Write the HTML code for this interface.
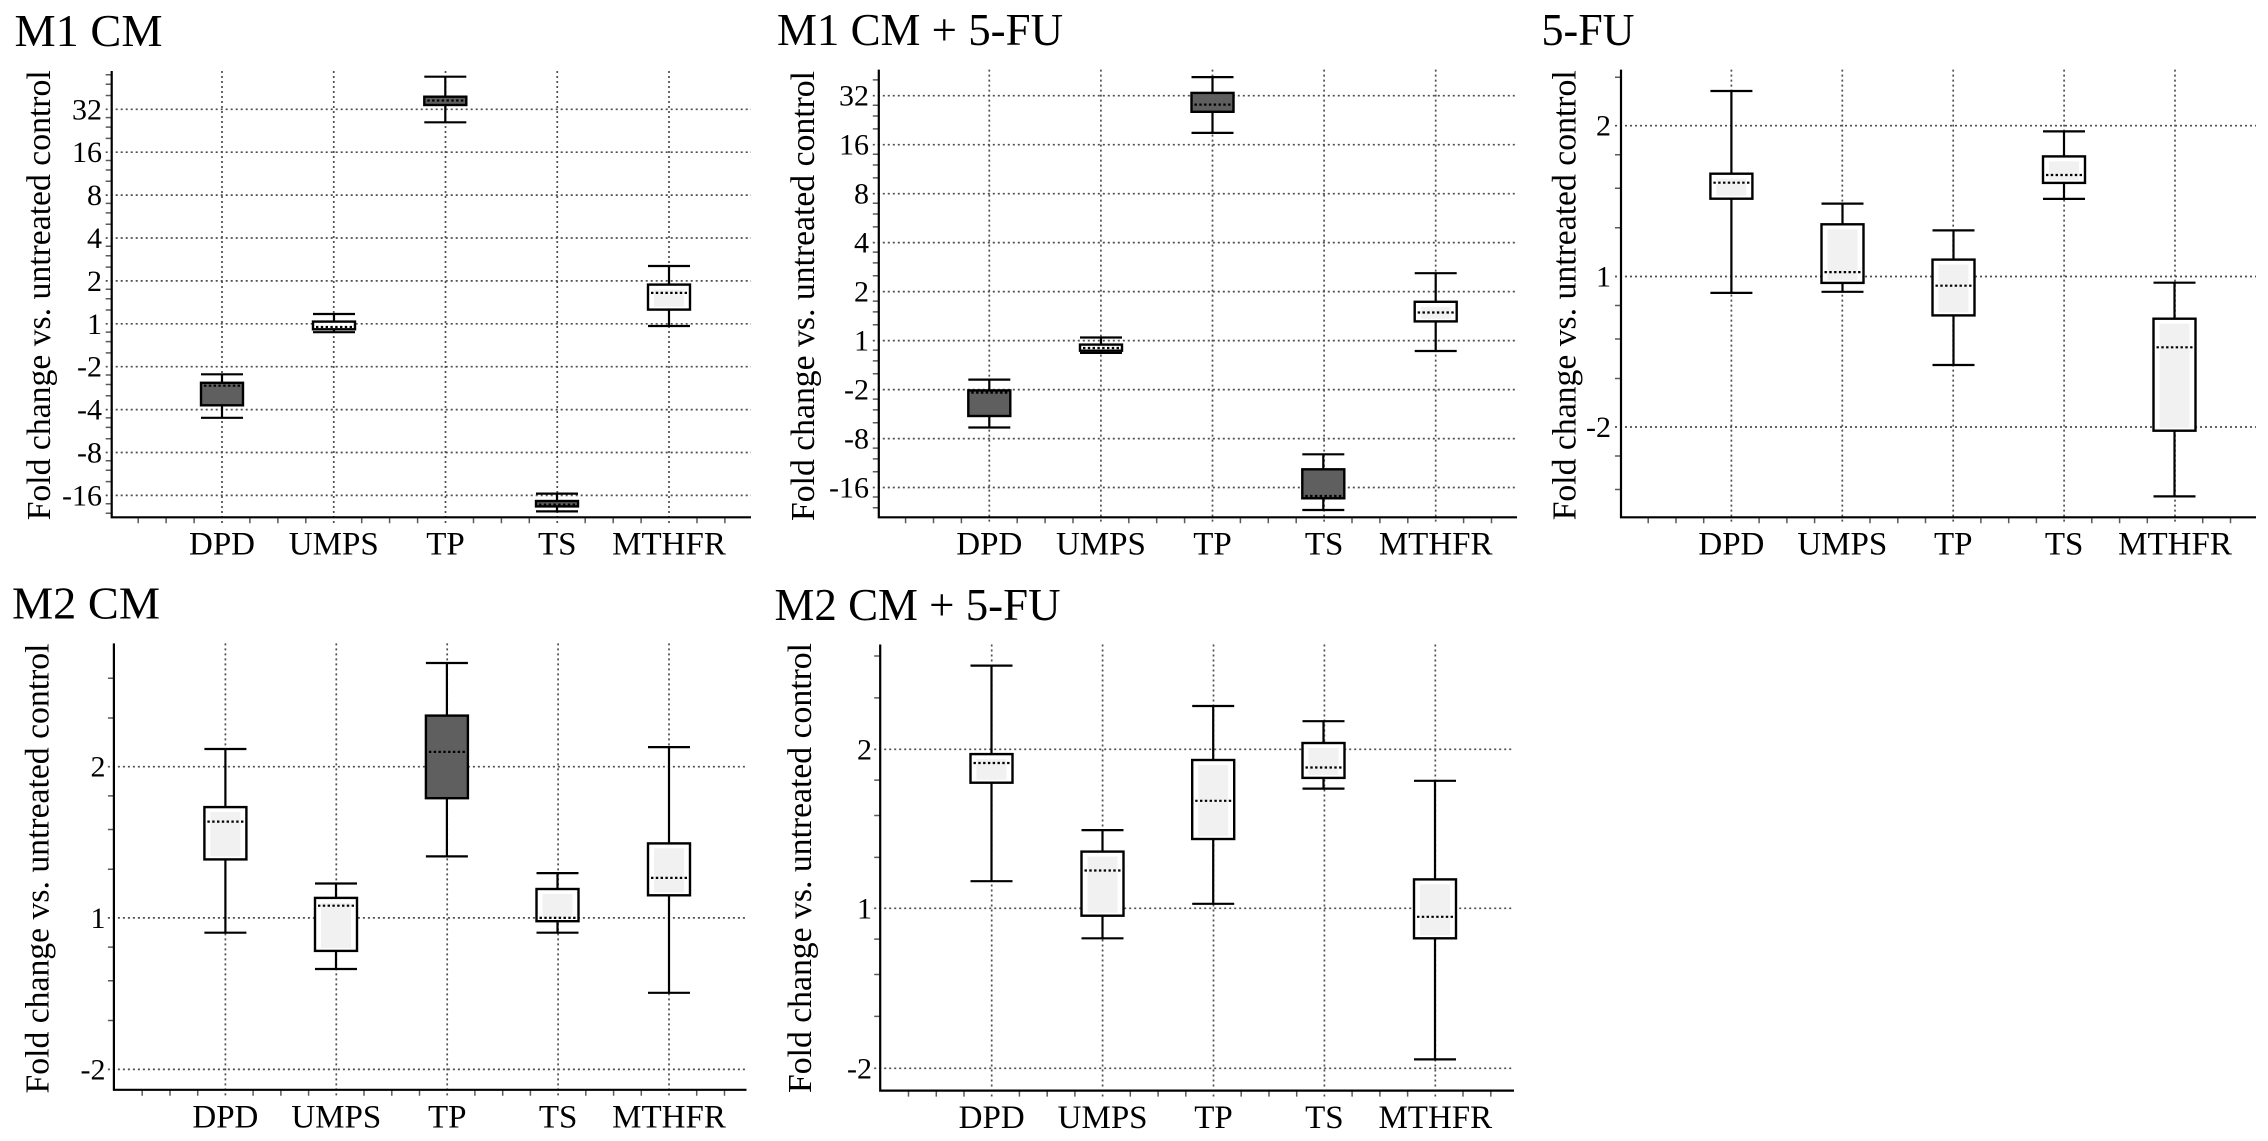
<!DOCTYPE html>
<html>
<head>
<meta charset="utf-8">
<style>
html,body{margin:0;padding:0;background:#fff;}
svg{display:block;}
text{font-family:"Liberation Serif","Times New Roman",serif;fill:#000;}
.ttl{font-size:46px;}
.yt{font-size:30px;text-anchor:end;}
.xt{font-size:33px;text-anchor:middle;}
.yl{font-size:33.5px;text-anchor:middle;}
.ax{stroke:#000;stroke-width:2.2;fill:none;}
.gd{stroke:#4e4e4e;stroke-width:1.7;stroke-dasharray:2 3;fill:none;}
.mt{stroke:#5a5a5a;stroke-width:1.5;fill:none;}
.wh{stroke:#000;stroke-width:2.2;fill:none;}
.bd{fill:#5f5f5f;stroke:#000;stroke-width:2.4;}
.bw{fill:#fff;stroke:#000;stroke-width:2.4;}
.in{fill:#f1f1f1;}
.md{stroke:#000;stroke-width:2.2;stroke-dasharray:2.4 2.4;fill:none;}
</style>
</head>
<body>
<svg width="2268" height="1141" viewBox="0 0 2268 1141" xmlns="http://www.w3.org/2000/svg">

<!-- ================= PANEL 1: M1 CM ================= -->
<text class="ttl" x="14.5" y="46" textLength="148" lengthAdjust="spacingAndGlyphs">M1 CM</text>
<text class="yl" transform="translate(50,295.3) rotate(-90)" textLength="450" lengthAdjust="spacingAndGlyphs">Fold change vs. untreated control</text>
<path class="gd" d="M105.7 109.3H751M105.7 152.2H751M105.7 195.1H751M105.7 238H751M105.7 280.9H751M105.7 323.8H751M105.7 366.7H751M105.7 409.6H751M105.7 452.5H751M105.7 495.4H751"/>
<path class="gd" d="M222 71V523.3M333.75 71V523.3M445.5 71V523.3M557.25 71V523.3M669 71V523.3"/>
<path class="mt" d="M105.7 74.7h6M105.7 84.2h6M105.7 95.5h6M105.7 117.6h6M105.7 127.1h6M105.7 138.4h6M105.7 160.5h6M105.7 170h6M105.7 181.3h6M105.7 203.4h6M105.7 212.9h6M105.7 224.2h6M105.7 246.3h6M105.7 255.8h6M105.7 267.1h6M105.7 289.2h6M105.7 298.7h6M105.7 310h6M105.7 332.1h6M105.7 341.6h6M105.7 352.9h6M105.7 375h6M105.7 384.5h6M105.7 395.8h6M105.7 417.9h6M105.7 427.4h6M105.7 438.7h6M105.7 460.8h6M105.7 470.3h6M105.7 481.6h6M105.7 503.7h6M105.7 513.2h6"/>
<path class="mt" d="M138.2 517.3v6M166.1 517.3v6M194.1 517.3v6M249.9 517.3v6M277.9 517.3v6M305.8 517.3v6M361.7 517.3v6M389.6 517.3v6M417.6 517.3v6M473.5 517.3v6M501.4 517.3v6M529.3 517.3v6M585.2 517.3v6M613.2 517.3v6M641.1 517.3v6M697 517.3v6M724.9 517.3v6"/>
<path class="ax" d="M111.7 71V517.3H751"/>
<text class="yt" x="102" y="119.3">32</text>
<text class="yt" x="102" y="162.2">16</text>
<text class="yt" x="102" y="205.1">8</text>
<text class="yt" x="102" y="248">4</text>
<text class="yt" x="102" y="290.9">2</text>
<text class="yt" x="102" y="333.8">1</text>
<text class="yt" x="102" y="376.7">-2</text>
<text class="yt" x="102" y="419.6">-4</text>
<text class="yt" x="102" y="462.5">-8</text>
<text class="yt" x="102" y="505.4">-16</text>
<text class="xt" x="222" y="554.5">DPD</text>
<text class="xt" x="333.75" y="554.5">UMPS</text>
<text class="xt" x="445.5" y="554.5">TP</text>
<text class="xt" x="557.25" y="554.5">TS</text>
<text class="xt" x="669" y="554.5">MTHFR</text>
<!-- boxes -->
<path class="wh" d="M222 374.3V382.8M222 405.3V417.8M201 374.3H243M201 417.8H243"/>
<rect class="bd" x="201" y="382.8" width="42" height="22.5"/>
<path class="md" d="M204 385.7H240"/>
<path class="wh" d="M334 314V321.6M334 329.3V332.2M313 314H355M313 332.2H355"/>
<rect class="bw" x="313" y="321.6" width="42" height="7.7"/>
<path class="md" d="M316 327H352"/>
<path class="wh" d="M445.3 76.7V96.7M445.3 105V122.3M424.3 76.7H466.3M424.3 122.3H466.3"/>
<rect class="bd" x="424.3" y="96.7" width="42" height="8.3"/>
<path class="md" d="M427.3 100.5H463.3"/>
<path class="wh" d="M557 493.6V501M557 506.4V511.4M536 493.6H578M536 511.4H578"/>
<rect class="bd" x="536" y="501" width="42" height="5.4"/>
<path class="md" d="M539 504.6H575"/>
<path class="wh" d="M669 266V284.6M669 309.6V326M648 266H690M648 326H690"/>
<rect class="bw" x="648" y="284.6" width="42" height="25"/>
<rect class="in" x="654" y="289.6" width="30" height="17"/>
<path class="md" d="M651 292.9H687"/>

<!-- ================= PANEL 2: M1 CM + 5-FU ================= -->
<text class="ttl" x="777" y="45" textLength="286" lengthAdjust="spacingAndGlyphs">M1 CM + 5-FU</text>
<text class="yl" transform="translate(814,296) rotate(-90)" textLength="450" lengthAdjust="spacingAndGlyphs">Fold change vs. untreated control</text>
<path class="gd" d="M872.8 95.7H1517M872.8 144.7H1517M872.8 193.7H1517M872.8 242.6H1517M872.8 291.6H1517M872.8 340.6H1517M872.8 389.6H1517M872.8 438.6H1517M872.8 487.5H1517"/>
<path class="gd" d="M989.3 69.6V523.3M1100.9 69.6V523.3M1212.5 69.6V523.3M1324.1 69.6V523.3M1435.7 69.6V523.3"/>
<path class="mt" d="M872.8 79.9h6M872.8 105.2h6M872.8 116h6M872.8 128.9h6M872.8 154.2h6M872.8 165h6M872.8 177.9h6M872.8 203.2h6M872.8 214h6M872.8 226.9h6M872.8 252.1h6M872.8 262.9h6M872.8 275.8h6M872.8 301.1h6M872.8 311.9h6M872.8 324.8h6M872.8 350.1h6M872.8 360.9h6M872.8 373.8h6M872.8 399.1h6M872.8 409.9h6M872.8 422.8h6M872.8 448.1h6M872.8 458.9h6M872.8 471.8h6M872.8 497h6M872.8 507.8h6"/>
<path class="mt" d="M905.6 517.3v6M933.5 517.3v6M961.4 517.3v6M1017.2 517.3v6M1045.1 517.3v6M1073 517.3v6M1128.8 517.3v6M1156.7 517.3v6M1184.6 517.3v6M1240.4 517.3v6M1268.3 517.3v6M1296.2 517.3v6M1352 517.3v6M1379.9 517.3v6M1407.8 517.3v6M1463.6 517.3v6M1491.5 517.3v6"/>
<path class="ax" d="M878.8 69.6V517.3H1517"/>
<text class="yt" x="869" y="105.7">32</text>
<text class="yt" x="869" y="154.7">16</text>
<text class="yt" x="869" y="203.7">8</text>
<text class="yt" x="869" y="252.6">4</text>
<text class="yt" x="869" y="301.6">2</text>
<text class="yt" x="869" y="350.6">1</text>
<text class="yt" x="869" y="399.6">-2</text>
<text class="yt" x="869" y="448.6">-8</text>
<text class="yt" x="869" y="497.5">-16</text>
<text class="xt" x="989.3" y="554.5">DPD</text>
<text class="xt" x="1100.9" y="554.5">UMPS</text>
<text class="xt" x="1212.5" y="554.5">TP</text>
<text class="xt" x="1324.1" y="554.5">TS</text>
<text class="xt" x="1435.7" y="554.5">MTHFR</text>
<!-- boxes -->
<path class="wh" d="M989.3 379.6V390.4M989.3 416V427.5M968.3 379.6H1010.3M968.3 427.5H1010.3"/>
<rect class="bd" x="968.3" y="390.4" width="42" height="25.6"/>
<path class="md" d="M971.3 392.6H1007.3"/>
<path class="wh" d="M1101 337.5V344.6M1101 350.7V352.9M1080 337.5H1122M1080 352.9H1122"/>
<rect class="bw" x="1080" y="344.6" width="42" height="6.1"/>
<path class="md" d="M1083 348H1119"/>
<path class="wh" d="M1212.5 77.1V92.9M1212.5 111.8V132.9M1191.5 77.1H1233.5M1191.5 132.9H1233.5"/>
<rect class="bd" x="1191.5" y="92.9" width="42" height="18.9"/>
<path class="md" d="M1194.5 104.6H1230.5"/>
<path class="wh" d="M1323.3 454.3V469.3M1323.3 498.3V510M1302.3 454.3H1344.3M1302.3 510H1344.3"/>
<rect class="bd" x="1302.3" y="469.3" width="42" height="29"/>
<path class="md" d="M1305.3 496H1341.3"/>
<path class="wh" d="M1435.7 273.2V301.8M1435.7 321.4V351M1414.7 273.2H1456.7M1414.7 351H1456.7"/>
<rect class="bw" x="1414.7" y="301.8" width="42" height="19.6"/>
<rect class="in" x="1420.7" y="306.8" width="30" height="12"/>
<path class="md" d="M1417.7 312.5H1453.7"/>

<!-- ================= PANEL 3: 5-FU ================= -->
<text class="ttl" x="1541.5" y="45" textLength="93" lengthAdjust="spacingAndGlyphs">5-FU</text>
<text class="yl" transform="translate(1575.5,295.3) rotate(-90)" textLength="450" lengthAdjust="spacingAndGlyphs">Fold change vs. untreated control</text>
<path class="gd" d="M1615 125.7H2256M1615 276.5H2256M1615 427H2256"/>
<path class="gd" d="M1731.4 69.6V523.3M1842.3 69.6V523.3M1953.2 69.6V523.3M2064.1 69.6V523.3M2175 69.6V523.3"/>
<path class="mt" d="M1615 77.2h6M1615 154.7h6M1615 188.2h6M1615 227.7h6M1615 305.5h6M1615 339h6M1615 378.5h6M1615 456h6M1615 489.5h6"/>
<path class="mt" d="M1648.2 517.3v6M1676 517.3v6M1703.7 517.3v6M1759.1 517.3v6M1786.9 517.3v6M1814.6 517.3v6M1870 517.3v6M1897.8 517.3v6M1925.5 517.3v6M1980.9 517.3v6M2008.7 517.3v6M2036.4 517.3v6M2091.8 517.3v6M2119.6 517.3v6M2147.3 517.3v6M2202.7 517.3v6M2230.5 517.3v6"/>
<path class="ax" d="M1621 69.6V517.3H2256"/>
<text class="yt" x="1611" y="135.7">2</text>
<text class="yt" x="1611" y="286.5">1</text>
<text class="yt" x="1611" y="437">-2</text>
<text class="xt" x="1731.4" y="554.5">DPD</text>
<text class="xt" x="1842.3" y="554.5">UMPS</text>
<text class="xt" x="1953.2" y="554.5">TP</text>
<text class="xt" x="2064.1" y="554.5">TS</text>
<text class="xt" x="2175" y="554.5">MTHFR</text>
<!-- boxes -->
<path class="wh" d="M1731.4 91V173.7M1731.4 198.7V292.9M1710.4 91H1752.4M1710.4 292.9H1752.4"/>
<rect class="bw" x="1710.4" y="173.7" width="42" height="25"/>
<rect class="in" x="1716.4" y="178.7" width="30" height="17"/>
<path class="md" d="M1713.4 182.7H1749.4"/>
<path class="wh" d="M1842.5 203.6V224.3M1842.5 282.9V291.8M1821.5 203.6H1863.5M1821.5 291.8H1863.5"/>
<rect class="bw" x="1821.5" y="224.3" width="42" height="58.6"/>
<rect class="in" x="1827.5" y="229.3" width="30" height="50.6"/>
<path class="md" d="M1824.5 272.1H1860.5"/>
<path class="wh" d="M1953.5 230.4V259.6M1953.5 315.4V365M1932.5 230.4H1974.5M1932.5 365H1974.5"/>
<rect class="bw" x="1932.5" y="259.6" width="42" height="55.8"/>
<rect class="in" x="1938.5" y="264.6" width="30" height="47.8"/>
<path class="md" d="M1935.5 285.7H1971.5"/>
<path class="wh" d="M2064 131.4V156.4M2064 182.9V198.9M2043 131.4H2085M2043 198.9H2085"/>
<rect class="bw" x="2043" y="156.4" width="42" height="26.5"/>
<rect class="in" x="2049" y="161.4" width="30" height="18.5"/>
<path class="md" d="M2046 175H2082"/>
<path class="wh" d="M2174.5 282.7V318.7M2174.5 430.7V496.4M2153.5 282.7H2195.5M2153.5 496.4H2195.5"/>
<rect class="bw" x="2153.5" y="318.7" width="42" height="112"/>
<rect class="in" x="2159.5" y="323.7" width="30" height="104"/>
<path class="md" d="M2156.5 347.3H2192.5"/>

<!-- ================= PANEL 4: M2 CM ================= -->
<text class="ttl" x="12" y="618.5" textLength="148" lengthAdjust="spacingAndGlyphs">M2 CM</text>
<text class="yl" transform="translate(48.5,868.5) rotate(-90)" textLength="450" lengthAdjust="spacingAndGlyphs">Fold change vs. untreated control</text>
<path class="gd" d="M107.9 766.7H746.5M107.9 917.9H746.5M107.9 1069.4H746.5"/>
<path class="gd" d="M225.4 643.4V1095.8M336.3 643.4V1095.8M447.2 643.4V1095.8M558.1 643.4V1095.8M669 643.4V1095.8"/>
<path class="mt" d="M107.9 678.2h6M107.9 718h6M107.9 795.9h6M107.9 829.5h6M107.9 869.3h6M107.9 947.1h6M107.9 980.7h6M107.9 1020.5h6"/>
<path class="mt" d="M142.2 1089.8v6M170 1089.8v6M197.7 1089.8v6M253.1 1089.8v6M280.9 1089.8v6M308.6 1089.8v6M364 1089.8v6M391.8 1089.8v6M419.5 1089.8v6M474.9 1089.8v6M502.7 1089.8v6M530.4 1089.8v6M585.8 1089.8v6M613.6 1089.8v6M641.3 1089.8v6M696.7 1089.8v6M724.5 1089.8v6"/>
<path class="ax" d="M113.9 643.4V1089.8H746.5"/>
<text class="yt" x="105.5" y="776.7">2</text>
<text class="yt" x="105.5" y="927.9">1</text>
<text class="yt" x="105.5" y="1079.4">-2</text>
<text class="xt" x="225.4" y="1127.3">DPD</text>
<text class="xt" x="336.3" y="1127.3">UMPS</text>
<text class="xt" x="447.2" y="1127.3">TP</text>
<text class="xt" x="558.1" y="1127.3">TS</text>
<text class="xt" x="669" y="1127.3">MTHFR</text>
<!-- boxes -->
<path class="wh" d="M225.4 749V807.1M225.4 859.4V932.7M204.4 749H246.4M204.4 932.7H246.4"/>
<rect class="bw" x="204.4" y="807.1" width="42" height="52.3"/>
<rect class="in" x="210.4" y="812.1" width="30" height="44.3"/>
<path class="md" d="M207.4 821.6H243.4"/>
<path class="wh" d="M336 883.5V897.9M336 950.9V969M315 883.5H357M315 969H357"/>
<rect class="bw" x="315" y="897.9" width="42" height="53"/>
<rect class="in" x="321" y="902.9" width="30" height="45"/>
<path class="md" d="M318 905.7H354"/>
<path class="wh" d="M446.9 663V715.6M446.9 798.2V856.4M425.9 663H467.9M425.9 856.4H467.9"/>
<rect class="bd" x="425.9" y="715.6" width="42" height="82.6"/>
<path class="md" d="M428.9 751.9H464.9"/>
<path class="wh" d="M557.5 873.1V889M557.5 921.2V932.7M536.5 873.1H578.5M536.5 932.7H578.5"/>
<rect class="bw" x="536.5" y="889" width="42" height="32.2"/>
<rect class="in" x="542.5" y="894" width="30" height="24.2"/>
<path class="md" d="M539.5 917.9H575.5"/>
<path class="wh" d="M669 747.1V843.4M669 895.3V992.8M648 747.1H690M648 992.8H690"/>
<rect class="bw" x="648" y="843.4" width="42" height="51.9"/>
<rect class="in" x="654" y="848.4" width="30" height="43.9"/>
<path class="md" d="M651 877.9H687"/>

<!-- ================= PANEL 5: M2 CM + 5-FU ================= -->
<text class="ttl" x="774.5" y="620" textLength="286" lengthAdjust="spacingAndGlyphs">M2 CM + 5-FU</text>
<text class="yl" transform="translate(811,868) rotate(-90)" textLength="450" lengthAdjust="spacingAndGlyphs">Fold change vs. untreated control</text>
<path class="gd" d="M874.2 749.3H1514M874.2 908.3H1514M874.2 1068.3H1514"/>
<path class="gd" d="M991.7 644.5V1096.6M1102.6 644.5V1096.6M1213.5 644.5V1096.6M1324.4 644.5V1096.6M1435.3 644.5V1096.6"/>
<path class="mt" d="M874.2 656h6M874.2 697.9h6M874.2 780.1h6M874.2 815.5h6M874.2 857.4h6M874.2 939.1h6M874.2 974.5h6M874.2 1016.4h6"/>
<path class="mt" d="M908.5 1090.6v6M936.3 1090.6v6M964 1090.6v6M1019.4 1090.6v6M1047.2 1090.6v6M1074.9 1090.6v6M1130.3 1090.6v6M1158.1 1090.6v6M1185.8 1090.6v6M1241.2 1090.6v6M1269 1090.6v6M1296.7 1090.6v6M1352.1 1090.6v6M1379.9 1090.6v6M1407.6 1090.6v6M1463 1090.6v6M1490.8 1090.6v6"/>
<path class="ax" d="M880.2 644.5V1090.6H1514"/>
<text class="yt" x="872" y="759.3">2</text>
<text class="yt" x="872" y="918.3">1</text>
<text class="yt" x="872" y="1078.3">-2</text>
<text class="xt" x="991.7" y="1128">DPD</text>
<text class="xt" x="1102.6" y="1128">UMPS</text>
<text class="xt" x="1213.5" y="1128">TP</text>
<text class="xt" x="1324.4" y="1128">TS</text>
<text class="xt" x="1435.3" y="1128">MTHFR</text>
<!-- boxes -->
<path class="wh" d="M991.5 665.6V754.1M991.5 782.7V881.2M970.5 665.6H1012.5M970.5 881.2H1012.5"/>
<rect class="bw" x="970.5" y="754.1" width="42" height="28.6"/>
<rect class="in" x="976.5" y="759.1" width="30" height="20.6"/>
<path class="md" d="M973.5 763H1009.5"/>
<path class="wh" d="M1102.5 830.1V851.6M1102.5 915.7V938.3M1081.5 830.1H1123.5M1081.5 938.3H1123.5"/>
<rect class="bw" x="1081.5" y="851.6" width="42" height="64.1"/>
<rect class="in" x="1087.5" y="856.6" width="30" height="56.1"/>
<path class="md" d="M1084.5 870.5H1120.5"/>
<path class="wh" d="M1213.2 706V760M1213.2 839V903.8M1192.2 706H1234.2M1192.2 903.8H1234.2"/>
<rect class="bw" x="1192.2" y="760" width="42" height="79"/>
<rect class="in" x="1198.2" y="765" width="30" height="71"/>
<path class="md" d="M1195.2 800.8H1231.2"/>
<path class="wh" d="M1323.5 721.2V743M1323.5 777.9V788.6M1302.5 721.2H1344.5M1302.5 788.6H1344.5"/>
<rect class="bw" x="1302.5" y="743" width="42" height="34.9"/>
<rect class="in" x="1308.5" y="748" width="30" height="26.9"/>
<path class="md" d="M1305.5 767.5H1341.5"/>
<path class="wh" d="M1435 780.8V879.4M1435 938.3V1059.4M1414 780.8H1456M1414 1059.4H1456"/>
<rect class="bw" x="1414" y="879.4" width="42" height="58.9"/>
<rect class="in" x="1420" y="884.4" width="30" height="50.9"/>
<path class="md" d="M1417 916.8H1453"/>

</svg>
</body>
</html>
